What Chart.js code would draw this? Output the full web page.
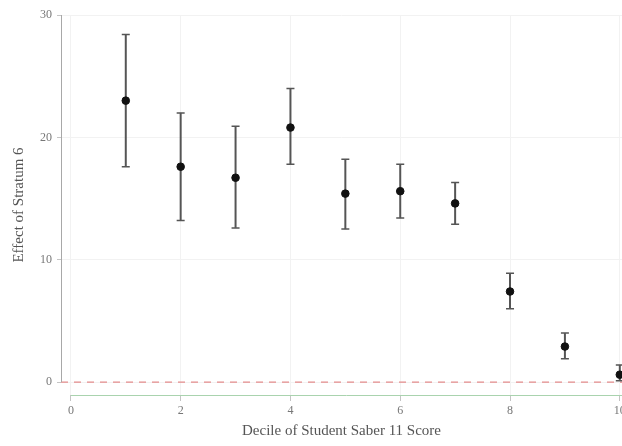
<!DOCTYPE html>
<html>
<head>
<meta charset="utf-8">
<script src="https://cdn.jsdelivr.net/npm/chart.js@4"></script>
<style>
  html, body { margin: 0; padding: 0; background: #fff; }
  #wrap { width: 622px; height: 446px; }
</style>
</head>
<body>
<div id="wrap"><canvas id="myChart"></canvas></div>
<script>
let deciles = [1, 2, 3, 4, 5, 6, 7, 8, 9, 10];
let estimates = [23.0, 17.6, 16.7, 20.8, 15.4, 15.6, 14.6, 7.4, 2.9, 0.6];
let lowerCI = [17.6, 13.2, 12.6, 17.8, 12.5, 13.4, 12.9, 6.0, 1.9, 0.1];
let upperCI = [28.4, 22.0, 20.9, 24.0, 18.2, 17.8, 16.3, 8.9, 4.0, 1.4];
let xTicks = [0, 2, 4, 6, 8, 10];
let yTicks = [0, 10, 20, 30];

const points = deciles.map((d, i) => ({ x: d, y: estimates[i] }));

// whiskers, zero line and the two axis lines
const extras = {
    id: 'extras',
    beforeDatasetsDraw(chart) {
        const { ctx, chartArea, scales: { x, y } } = chart;
        ctx.save();
        // red dashed zero line
        ctx.strokeStyle = '#e38b8b';
        ctx.lineWidth = 1.2;
        ctx.setLineDash([7, 6]);
        ctx.beginPath();
        ctx.moveTo(chartArea.left, y.getPixelForValue(0));
        ctx.lineTo(chartArea.right, y.getPixelForValue(0));
        ctx.stroke();
        ctx.setLineDash([]);

        // y axis line (0 to 30)
        ctx.strokeStyle = '#a8a8a8';
        ctx.lineWidth = 1;
        ctx.beginPath();
        ctx.moveTo(chartArea.left + 0.5, y.getPixelForValue(yTicks[0]));
        ctx.lineTo(chartArea.left + 0.5, y.getPixelForValue(yTicks[yTicks.length - 1]));
        ctx.stroke();

        // x axis line
        ctx.strokeStyle = '#a9d3ae';
        ctx.beginPath();
        ctx.moveTo(x.getPixelForValue(xTicks[0]), chartArea.bottom + 0.5);
        ctx.lineTo(chartArea.right, chartArea.bottom + 0.5);
        ctx.stroke();

        // error bars
        ctx.strokeStyle = '#555';
        deciles.forEach((d, i) => {
            const px = x.getPixelForValue(d);
            const top = y.getPixelForValue(upperCI[i]);
            const bot = y.getPixelForValue(lowerCI[i]);
            ctx.lineWidth = 2;
            ctx.beginPath();
            ctx.moveTo(px, top);
            ctx.lineTo(px, bot);
            ctx.stroke();
            ctx.lineWidth = 1.5;
            ctx.beginPath();
            ctx.moveTo(px - 4, top);
            ctx.lineTo(px + 4, top);
            ctx.moveTo(px - 4, bot);
            ctx.lineTo(px + 4, bot);
            ctx.stroke();
        });
        ctx.restore();
    }
};

const ctx = document.getElementById('myChart');

new Chart(ctx, {
    type: 'scatter',
    data: {
        datasets: [{
            label: 'Effect',
            data: points,
            backgroundColor: '#111',
            borderColor: '#111',
            pointRadius: 3.8,
            pointHoverRadius: 3.8
        }]
    },
    options: {
        responsive: true,
        maintainAspectRatio: false,
        animation: false,
        layout: { autoPadding: false, padding: { top: 15, right: 0, left: 0, bottom: 0 } },
        plugins: {
            legend: { display: false },
            tooltip: { enabled: false }
        },
        scales: {
            x: {
                type: 'linear',
                min: -0.18,
                max: 10.04,
                afterBuildTicks: (s) => { s.ticks = xTicks.map(v => ({ value: v })); },
                afterFit: (s) => { s.paddingRight = 0; s.paddingLeft = 0; s.height = 51; },
                border: { display: false },
                grid: { color: '#f2f2f2', tickColor: '#c4c4c4', tickLength: 6 },
                ticks: {
                    color: '#777',
                    padding: 3,
                    font: { family: 'Liberation Serif', size: 12 }
                },
                title: {
                    display: true,
                    text: 'Decile of Student Saber 11 Score',
                    color: '#555',
                    padding: { top: 0, bottom: 6 },
                    font: { family: 'Liberation Serif', size: 15 }
                }
            },
            y: {
                min: -1.06,
                max: 30,
                afterBuildTicks: (s) => { s.ticks = yTicks.map(v => ({ value: v })); },
                afterFit: (s) => { s.width = 61; s.paddingTop = 0; },
                border: { display: false },
                grid: { color: '#f2f2f2', tickColor: '#c4c4c4', tickLength: 4 },
                ticks: {
                    color: '#777',
                    padding: 5,
                    font: { family: 'Liberation Serif', size: 12 }
                },
                title: {
                    display: true,
                    text: 'Effect of Stratum 6',
                    color: '#555',
                    padding: { top: 10, bottom: 0 },
                    font: { family: 'Liberation Serif', size: 15 }
                }
            }
        }
    },
    plugins: [extras]
});
</script>
</body>
</html>
